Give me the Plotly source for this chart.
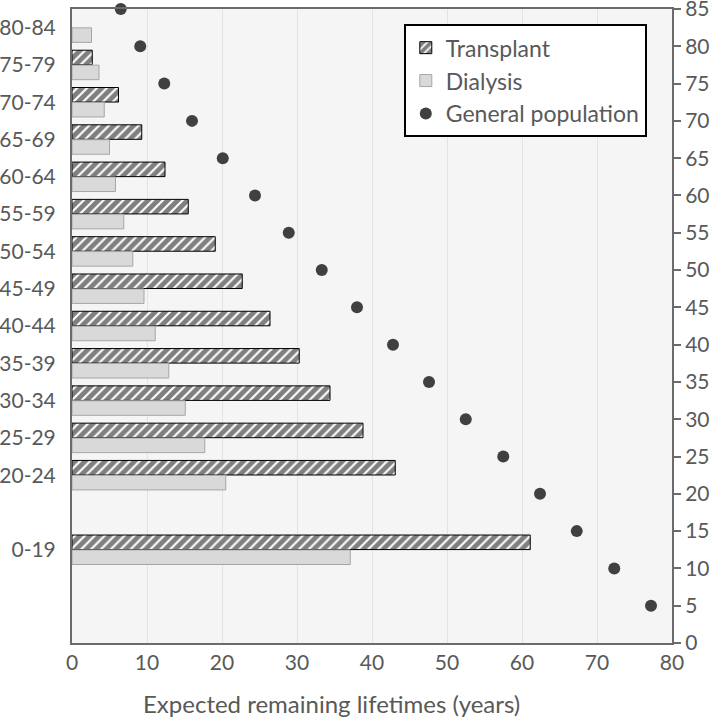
import plotly.graph_objects as go

# Age groups (left axis) and their position on the age scale
age_groups = ["80-84", "75-79", "70-74", "65-69", "60-64", "55-59", "50-54",
              "45-49", "40-44", "35-39", "30-34", "25-29", "20-24", "0-19"]
age_pos = [82.5, 77.5, 72.5, 67.5, 62.5, 57.5, 52.5, 47.5, 42.5, 37.5, 32.5, 27.5, 22.5, 12.5]

transplant = [None, 2.7, 6.2, 9.3, 12.4, 15.5, 19.1, 22.7, 26.4, 30.3, 34.4, 38.8, 43.1, 61.1]
dialysis = [2.6, 3.6, 4.3, 5.0, 5.8, 6.9, 8.1, 9.6, 11.1, 12.9, 15.1, 17.7, 20.5, 37.1]

# General population: age (right axis) vs expected remaining lifetime
gp_age = [85, 80, 75, 70, 65, 60, 55, 50, 45, 40, 35, 30, 25, 20, 15, 10, 5]
gp_years = [6.5, 9.1, 12.3, 16.0, 20.1, 24.4, 28.9, 33.3, 38.0, 42.8, 47.6, 52.5,
            57.5, 62.4, 67.3, 72.3, 77.2]

FONT = "Lato"
TXT = "#595959"
AX = "#6b6b6b"
FS = 21

fig = go.Figure()
fig.add_trace(go.Bar(
    name="Transplant", orientation="h",
    x=transplant, y=[p + 1.0 for p in age_pos], width=1.95,
    marker=dict(color="white", line=dict(color="black", width=1),
                pattern=dict(shape="/", fgcolor="black", bgcolor="white",
                             size=7, solidity=0.7)),
))
fig.add_trace(go.Bar(
    name="Dialysis", orientation="h",
    x=dialysis, y=[p - 1.0 for p in age_pos], width=1.95,
    marker=dict(color="#d9d9d9", line=dict(color="#a6a6a6", width=1)),
))
fig.add_trace(go.Scatter(
    name="General population", mode="markers",
    x=gp_years, y=gp_age, yaxis="y2",
    marker=dict(color="#404040", size=12),
    cliponaxis=False,
))

fig.update_layout(
    width=720, height=720,
    margin=dict(l=72, r=48, t=9, b=77),
    paper_bgcolor="white", plot_bgcolor="#f5f5f5",
    barmode="overlay",
    font=dict(family=FONT, size=FS, color=TXT),
    showlegend=True,
    legend=dict(x=0.553, y=0.976, xanchor="left", yanchor="top",
                bgcolor="white", bordercolor="black", borderwidth=2,
                font=dict(size=23, color=TXT), traceorder="normal",
                itemwidth=30, tracegroupgap=0),
    xaxis=dict(range=[0, 80], dtick=10, showgrid=True, gridcolor="#e3e3e3",
               zeroline=False, showline=True, linecolor=AX, linewidth=2,
               mirror=True, ticks="", tickfont=dict(size=FS, color=TXT),
               automargin=False),
    yaxis=dict(range=[0, 85], tickmode="array", tickvals=age_pos, ticktext=age_groups,
               showgrid=False, zeroline=False, showline=True, linecolor=AX,
               linewidth=2, ticks="", automargin=False, ticklabelstandoff=10,
               tickfont=dict(size=FS, color=TXT)),
    yaxis2=dict(range=[0, 85], overlaying="y", side="right", dtick=5, tick0=0,
                showgrid=False, zeroline=False, showline=True, linecolor=AX,
                linewidth=2, ticks="outside", ticklen=7, tickcolor=AX, tickwidth=1.5,
                automargin=False, ticklabeloverflow="allow",
                tickfont=dict(size=FS, color=TXT)),
    annotations=[dict(text="Expected remaining lifetimes (years)",
                      xref="paper", yref="paper", x=0.433, y=-0.096,
                      xanchor="center", yanchor="middle", showarrow=False,
                      font=dict(size=24, color=TXT))],
)

fig.write_html("out.html", config={"displayModeBar": False},
               post_script="document.body.style.margin='0';")
